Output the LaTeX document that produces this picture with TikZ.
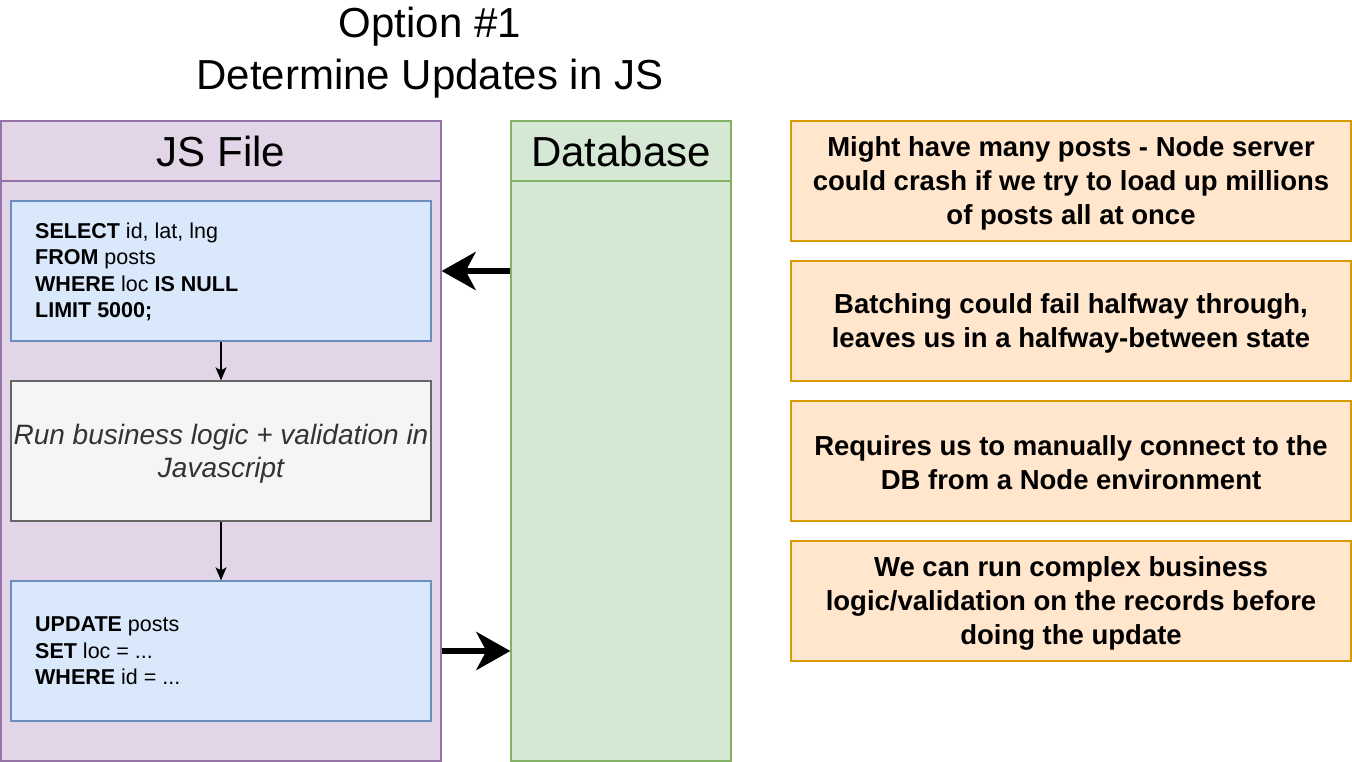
\documentclass[tikz,border=0pt]{standalone}
\usepackage{fontspec}
\setmainfont{Liberation Sans}
\usetikzlibrary{arrows.meta}

\definecolor{jsfill}{HTML}{E1D5E7}
\definecolor{jsline}{HTML}{9673A6}
\definecolor{dbfill}{HTML}{D5E8D4}
\definecolor{dbline}{HTML}{82B366}
\definecolor{sqlfill}{HTML}{DAE8FC}
\definecolor{sqlline}{HTML}{6C8EBF}
\definecolor{logicfill}{HTML}{F5F5F5}
\definecolor{logicline}{HTML}{666666}
\definecolor{logictext}{HTML}{333333}
\definecolor{notefill}{HTML}{FFE6CC}
\definecolor{noteline}{HTML}{D79B00}

\begin{document}
\begin{tikzpicture}[x=1pt, y=-1pt,
  panel/.style={draw, rectangle, inner sep=0pt, line width=1.3pt},
  jspanel/.style={panel, fill=jsfill, draw=jsline},
  dbpanel/.style={panel, fill=dbfill, draw=dbline},
  headtext/.style={font=\fontsize{42}{50}\selectfont},
  sqlbox/.style={panel, fill=sqlfill, draw=sqlline, minimum width=420pt, minimum height=140pt},
  logicbox/.style={panel, fill=logicfill, draw=logicline, minimum width=420pt, minimum height=140pt},
  sqltext/.style={inner sep=0pt, align=left, anchor=west, font=\fontsize{21.5}{26.3}\selectfont},
  notebox/.style={panel, fill=notefill, draw=noteline, minimum width=560pt, minimum height=120pt},
  notetext/.style={inner sep=0pt, align=center, font=\bfseries\fontsize{27.5}{34}\selectfont},
  flow/.style={line width=1.3pt, -{Stealth[length=13pt, width=11pt, inset=3pt]}},
  bigflow/.style={line width=6.5pt, -{Stealth[length=34pt, width=38pt, inset=10pt]}}
]
\useasboundingbox (0,0) rectangle (1352,762);

% title
\node[align=center, font=\fontsize{42}{52}\selectfont] (title) at (430,53)
  {Option \#1\\Determine Updates in JS};

% JS file swimlane
\node[jspanel, minimum width=440pt, minimum height=580pt] (js) at (221,471) {};
\node[jspanel, minimum width=440pt, minimum height=60pt, headtext] (jshead) at (221,151) {JS File};

% database swimlane
\node[dbpanel, minimum width=220pt, minimum height=580pt] (db) at (621,471) {};
\node[dbpanel, minimum width=220pt, minimum height=60pt, headtext] (dbhead) at (621,151) {Database};

% steps inside the JS file
\node[sqlbox] (sql) at (221,271) {};
\node[sqltext] (sqlt) at (35,272)
  {\textbf{SELECT} id, lat, lng\\\textbf{FROM} posts\\\textbf{WHERE} loc \textbf{IS NULL}\\\textbf{LIMIT 5000;}};

\node[logicbox] (logic) at (221,451) {};
\node[align=center, text=logictext, inner sep=0pt, font=\itshape\fontsize{28}{33}\selectfont] (logict) at (221,454)
  {Run business logic + validation in\\Javascript};

\node[sqlbox] (upd) at (221,651) {};
\node[sqltext] (updt) at (35,651)
  {\textbf{UPDATE} posts\\\textbf{SET} loc = ...\\\textbf{WHERE} id = ...};

\draw[flow] (sql) -- (logic);
\draw[flow] (logic) -- (upd);

% data moving between database and script
\draw[bigflow] (db.west |- sql.east) -- (js.east |- sql.east);
\draw[bigflow] (js.east |- upd.east) -- (db.west |- upd.east);

% notes
\node[notebox] (n1) at (1071,181) {};
\node[notetext] (n1t) at (1071,183)
  {Might have many posts - Node server\\could crash if we try to load up millions\\of posts all at once};
\node[notebox] (n2) at (1071,321) {};
\node[notetext] (n2t) at (1071,323)
  {Batching could fail halfway through,\\leaves us in a halfway-between state};
\node[notebox] (n3) at (1071,461) {};
\node[notetext] (n3t) at (1071,463)
  {Requires us to manually connect to the\\DB from a Node environment};
\node[notebox] (n4) at (1071,601) {};
\node[notetext] (n4t) at (1071,603)
  {We can run complex business\\logic/validation on the records before\\doing the update};
\end{tikzpicture}
\end{document}
